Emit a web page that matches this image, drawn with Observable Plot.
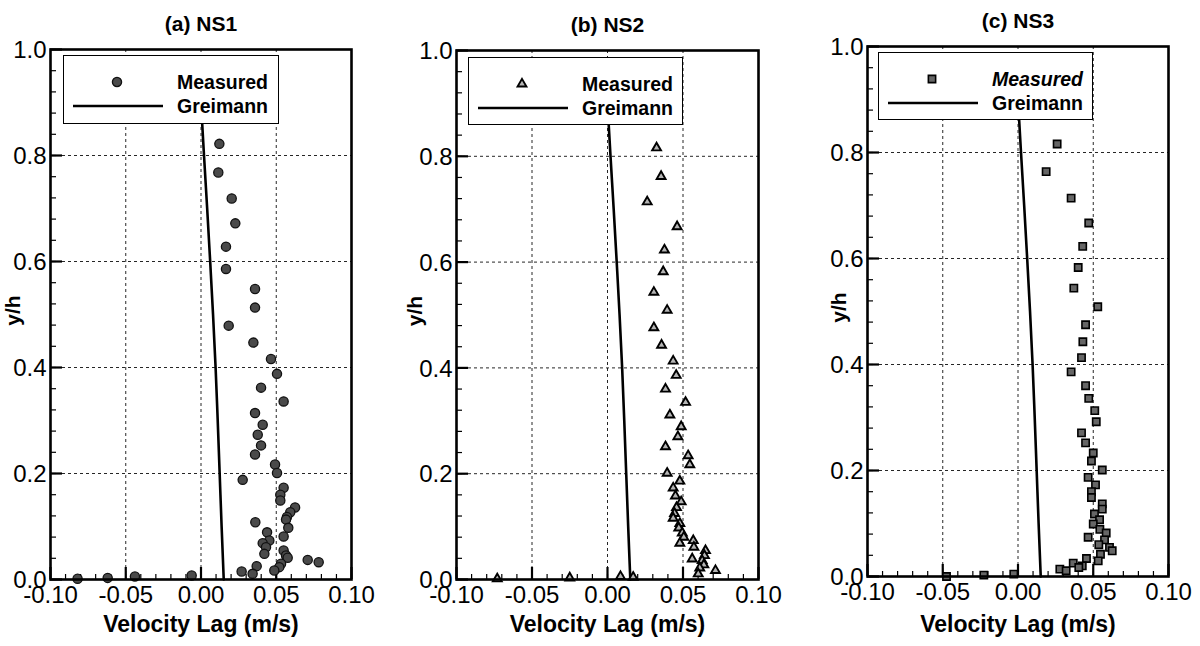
<!DOCTYPE html>
<html><head><meta charset="utf-8">
<script src="https://cdn.jsdelivr.net/npm/d3@7"></script>
<script src="https://cdn.jsdelivr.net/npm/@observablehq/plot@0.6"></script>
<style>
body{margin:0;background:#fff;font-family:"Liberation Sans",Arial,sans-serif;}
#wrap{position:relative;width:1200px;height:646px;overflow:hidden;background:#fff;}
.panel{position:absolute;top:0;}
.legend{position:absolute;background:#fff;border:1px solid #000;box-sizing:border-box;}
</style></head><body><div id="wrap"></div>
<script>
// ---- data ----
const panelTitles = ["(a) NS1", "(b) NS2", "(c) NS3"];
const xLabel = "Velocity Lag (m/s)";
const yLabel = "y/h";
const legendLabels = ["Measured", "Greimann"];
const xMajor = [-0.10, -0.05, 0.00, 0.05, 0.10];
const yMajor = [0.0, 0.2, 0.4, 0.6, 0.8, 1.0];
const xMinor = d3.range(-10, 11).map(i => i / 100);
const yMinor = d3.range(0, 26).map(i => i * 0.04);

const ns1X = [0.0122,0.0115,0.0204,0.0228,0.0166,0.0166,0.0359,0.0359,0.0184,0.0348,0.0465,0.0505,0.0399,0.0549,0.0359,0.041,0.0377,0.0399,0.0359,0.0492,0.0505,0.0277,0.0549,0.0527,0.0527,0.0625,0.0593,0.0571,0.0565,0.0361,0.058,0.0439,0.0549,0.0454,0.041,0.0432,0.0421,0.0549,0.0565,0.0576,0.0709,0.0782,0.0532,0.052,0.0487,0.037,0.027,0.0343,-0.0062,-0.0439,-0.062,-0.082];
const ns1Y = [0.822,0.768,0.719,0.672,0.628,0.586,0.548,0.513,0.479,0.447,0.416,0.388,0.362,0.336,0.314,0.292,0.273,0.253,0.236,0.217,0.201,0.188,0.173,0.160,0.149,0.136,0.127,0.118,0.113,0.108,0.0975,0.089,0.081,0.0736,0.0686,0.061,0.0484,0.0547,0.0453,0.041,0.037,0.0327,0.0296,0.0233,0.017,0.0252,0.0151,0.0107,0.0075,0.0057,0.003,0.0013];

const ns2X = [0.0325,0.0355,0.0263,0.0461,0.0377,0.0369,0.0307,0.0395,0.0307,0.0358,0.0435,0.0455,0.0384,0.0517,0.0413,0.0488,0.0466,0.0384,0.0534,0.0545,0.0395,0.0479,0.0435,0.045,0.0488,0.0457,0.0444,0.0435,0.0479,0.0472,0.0495,0.0505,0.0479,0.0568,0.0572,0.0649,0.0642,0.0561,0.0627,0.0638,0.0611,0.0715,0.0601,0.017,0.0086,-0.025,-0.073];
const ns2Y = [0.816,0.762,0.714,0.667,0.623,0.582,0.543,0.509,0.476,0.443,0.413,0.386,0.360,0.335,0.311,0.289,0.270,0.251,0.234,0.217,0.201,0.186,0.173,0.158,0.147,0.136,0.125,0.116,0.106,0.0975,0.088,0.080,0.0686,0.0736,0.061,0.0547,0.0453,0.039,0.0358,0.0277,0.022,0.017,0.0107,0.0044,0.0057,0.0031,0.0013];

const ns3X = [0.026,0.0187,0.0353,0.047,0.043,0.040,0.0371,0.053,0.0449,0.0431,0.0422,0.0353,0.0449,0.047,0.051,0.052,0.0422,0.0449,0.050,0.0488,0.056,0.0466,0.0515,0.0488,0.0488,0.056,0.056,0.0508,0.0542,0.050,0.0544,0.0586,0.0466,0.0575,0.0537,0.0608,0.0626,0.0548,0.0455,0.0533,0.0367,0.0427,0.0404,0.0278,0.032,-0.0028,-0.0227,-0.0475];
const ns3Y = [0.816,0.764,0.714,0.667,0.623,0.583,0.544,0.509,0.475,0.443,0.413,0.386,0.360,0.336,0.313,0.292,0.271,0.252,0.233,0.218,0.201,0.187,0.173,0.160,0.149,0.137,0.127,0.118,0.107,0.099,0.089,0.082,0.074,0.069,0.060,0.055,0.0485,0.042,0.034,0.0296,0.0253,0.020,0.017,0.014,0.0108,0.0045,0.0026,0.0000];

const greimannY = [0.0, 0.1, 0.2, 0.3, 0.4, 0.5, 0.6, 0.7, 0.8, 0.9];
const greimannX = [0.0151, 0.0137, 0.0124, 0.0111, 0.0097, 0.0080, 0.0061, 0.0041, 0.0020, 0.0000];

// ---- layout ----
const panels = [
  {left:0,   mL:50, mR:49, mT:49, mB:67, xs:ns1X, ys:ns1Y, symbol:"circle",   r:4.6, fill:"#4a4a4a", stroke:"#111", sw:1.3, yLabDx:-37, xLabDy:45,
   lg:{left:63, top:55, w:216, h:69}, italic:false},
  {left:400, mL:56, mR:42, mT:50, mB:67, xs:ns2X, ys:ns2Y, symbol:"triangle", r:3.3, fill:"#b5b5b5", stroke:"#000", sw:1.9, yLabDx:-41, xLabDy:45,
   lg:{left:468, top:57, w:215, h:68}, italic:false},
  {left:800, mL:67, mR:32, mT:46, mB:70, xs:ns3X, ys:ns3Y, symbol:"square",   r:4.1, fill:"#666", stroke:"#000", sw:1.6, yLabDx:-28, xLabDy:48,
   lg:{left:878, top:52, w:215, h:68}, italic:true}
];

const FONT = '"Liberation Sans", Arial, sans-serif';
const wrap = document.getElementById("wrap");

panels.forEach((cfg, k) => {
  const pts = cfg.xs.map((x, i) => ({x, y: cfg.ys[i]}));
  const line = greimannX.map((x, i) => ({x, y: greimannY[i]}));
  const chart = Plot.plot({
    width: 400, height: 646,
    marginLeft: cfg.mL, marginRight: cfg.mR, marginTop: cfg.mT, marginBottom: cfg.mB,
    style: {fontFamily: FONT, color: "#000", background: "transparent", overflow: "visible"},
    x: {domain: [-0.1, 0.1]},
    y: {domain: [0, 1]},
    marks: [
      Plot.gridX({ticks: xMajor.slice(1, -1), stroke: "#000", strokeOpacity: 0.85, strokeWidth: 1, strokeDasharray: "3,3"}),
      Plot.gridY({ticks: yMajor.slice(1, -1), stroke: "#000", strokeOpacity: 0.85, strokeWidth: 1, strokeDasharray: "3,3"}),
      Plot.axisX({ticks: xMinor, tickSize: -5, tickFormat: () => "", label: null, strokeWidth: 1.2}),
      Plot.axisX({ticks: xMajor, tickSize: -12, tickFormat: () => "", label: null, strokeWidth: 2.2}),
      Plot.axisY({ticks: yMinor, tickSize: -6, tickFormat: () => "", label: null, strokeWidth: 1.2}),
      Plot.axisY({ticks: yMajor, tickSize: -12, tickFormat: () => "", label: null, strokeWidth: 2.2}),
      Plot.text(xMajor, {x: d => d, text: d => d.toFixed(2), frameAnchor: "bottom", lineAnchor: "middle", dy: 16, fontSize: 24, fill: "#000"}),
      Plot.text(yMajor, {y: d => d, text: d => d.toFixed(1), frameAnchor: "left", textAnchor: "end", dx: -4, dy: 1, fontSize: 24, fill: "#000"}),
      Plot.line(line, {x: "x", y: "y", stroke: "#000", strokeWidth: 2.6, curve: "monotone-y"}),
      Plot.dot(pts, {x: "x", y: "y", symbol: cfg.symbol, r: cfg.r, fill: cfg.fill, stroke: cfg.stroke, strokeWidth: cfg.sw}),
      Plot.frame({stroke: "#000", strokeWidth: 2.6}),
      Plot.text([panelTitles[k]], {frameAnchor: "top", lineAnchor: "middle", dy: -25, fontWeight: "bold", fontSize: 21, fill: "#000"}),
      Plot.text([xLabel], {frameAnchor: "bottom", lineAnchor: "middle", dy: cfg.xLabDy, fontWeight: "bold", fontSize: 23, fill: "#000"}),
      Plot.text([yLabel], {frameAnchor: "left", textAnchor: "middle", dx: cfg.yLabDx, dy: -4, rotate: -90, fontWeight: "bold", fontSize: 21, fill: "#000"})
    ]
  });
  chart.classList.add("panel");
  chart.style.left = cfg.left + "px";
  wrap.appendChild(chart);

  // legend box
  const lg = document.createElement("div");
  lg.className = "legend";
  Object.assign(lg.style, {left: cfg.lg.left + "px", top: cfg.lg.top + "px", width: cfg.lg.w + "px", height: cfg.lg.h + "px"});
  const svg = d3.create("svg").attr("width", cfg.lg.w).attr("height", cfg.lg.h).style("position", "absolute").style("left", "-1px").style("top", "-1px");
  const symType = {circle: d3.symbolCircle, triangle: d3.symbolTriangle, square: d3.symbolSquare}[cfg.symbol];
  svg.append("path")
    .attr("d", d3.symbol(symType, Math.PI * cfg.r * cfg.r)())
    .attr("transform", `translate(54,27)`)
    .attr("fill", cfg.fill).attr("stroke", cfg.stroke).attr("stroke-width", cfg.sw);
  svg.append("line").attr("x1", 10).attr("x2", 100).attr("y1", 51).attr("y2", 51)
    .attr("stroke", "#000").attr("stroke-width", 2.6);
  svg.append("text").attr("x", 205).attr("y", 34).attr("text-anchor", "end")
    .attr("font-family", FONT).attr("font-weight", "bold").attr("font-size", 19.5)
    .attr("font-style", cfg.italic ? "italic" : "normal").text(legendLabels[0]);
  svg.append("text").attr("x", 205).attr("y", 58).attr("text-anchor", "end")
    .attr("font-family", FONT).attr("font-weight", "bold").attr("font-size", 19.5).text(legendLabels[1]);
  lg.appendChild(svg.node());
  wrap.appendChild(lg);
});
</script>
</body></html>
